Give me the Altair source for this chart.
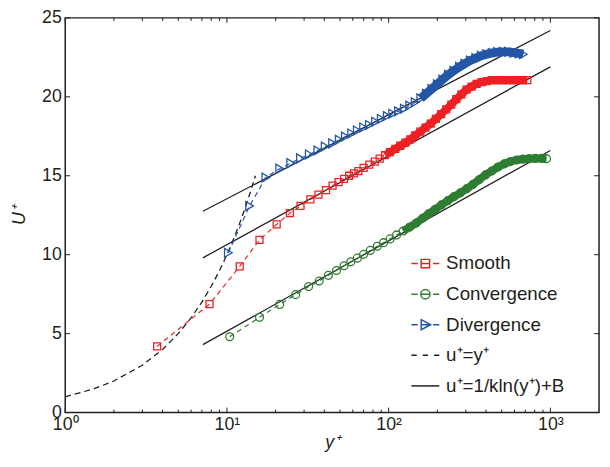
import altair as alt
import pandas as pd

FONT = "Liberation Sans"
INK = "#231f20"

# ---------------- data ----------------
smooth_yp = [3.7, 7.8, 12.0, 15.9, 20.3, 24.5, 28.5, 32.8, 36.8, 41.0, 45.0,
             49, 53, 57, 61, 65, 70, 76, 82, 88, 95, 102, 110, 118, 127, 136,
             146, 157, 169, 182, 196, 211, 227, 244, 262, 282, 303, 326, 350,
             376, 404, 434, 467, 502, 540, 580, 623, 670, 720]
smooth_u = [4.19, 6.87, 9.26, 10.94, 11.92, 12.64, 13.09, 13.5, 13.8, 14.09, 14.37,
            14.6, 14.8, 15.0, 15.15, 15.3, 15.5, 15.7, 15.9, 16.08, 16.3, 16.5, 16.7,
            16.9, 17.1, 17.3, 17.55, 17.8, 18.05, 18.3, 18.6, 18.9, 19.2, 19.5, 19.85,
            20.15, 20.45, 20.65, 20.82, 20.93, 21.0, 21.05, 21.05, 21.05, 21.05, 21.05,
            21.05, 21.05, 21.05]

conv_yp = [10.4, 15.9, 21.2, 26.6, 32.0, 37.2, 42.4, 47.6, 53.0, 58.3, 64, 70, 77,
           85, 93, 102, 112, 123, 135, 148, 162, 177, 194, 212, 232, 254, 278, 304,
           332, 363, 397, 434, 474, 518, 566, 619, 676, 739, 808, 883, 946]
conv_u = [4.8, 6.03, 6.85, 7.47, 7.98, 8.33, 8.69, 9.0, 9.3, 9.55, 9.78, 10.02,
          10.27, 10.53, 10.76, 11.0, 11.25, 11.5, 11.75, 12.0, 12.3, 12.6, 12.88,
          13.15, 13.42, 13.68, 13.92, 14.18, 14.45, 14.75, 15.05, 15.3, 15.55, 15.75,
          15.9, 16.0, 16.05, 16.08, 16.1, 16.1, 16.08]

div_yp = [10.2, 13.8, 17.4, 21.2, 24.8, 28.5, 32.3, 36.5, 40.5, 45, 49.5, 54, 59,
          64, 70, 76, 83, 90, 98, 106, 115, 125, 135, 146, 158, 171, 185, 200, 216,
          234, 253, 274, 296, 320, 346, 374, 404, 437, 472, 510, 551, 595, 640, 680]
div_u = [10.12, 13.09, 14.89, 15.45, 15.8, 16.1, 16.35, 16.6, 16.85, 17.05, 17.28,
         17.48, 17.68, 17.87, 18.06, 18.22, 18.42, 18.6, 18.78, 18.93, 19.08, 19.25,
         19.45, 19.65, 19.9, 20.2, 20.5, 20.8, 21.1, 21.4, 21.65, 21.9, 22.1, 22.3,
         22.45, 22.6, 22.7, 22.78, 22.83, 22.85, 22.85, 22.8, 22.75, 22.7]

# viscous sublayer u+ = y+
visc_yp = [1, 1.5, 2, 3, 4, 5, 6, 7, 8, 9, 10, 11, 12, 13, 14, 15]
visc_u = [1, 1.5, 2, 3, 4, 5, 6, 7, 8, 9, 10, 11, 12, 13, 14, 15]

# log-law lines (two end points each)
law_yp = [7.1, 1000]
law_div_u = [12.75, 24.2]
law_smooth_u = [9.8, 21.9]
law_conv_u = [4.3, 16.6]

x_major = [1, 10, 100, 1000]
x_minor = [2, 3, 4, 5, 6, 7, 8, 9, 20, 30, 40, 50, 60, 70, 80, 90,
           200, 300, 400, 500, 600, 700, 800, 900]
y_major = [0, 5, 10, 15, 20, 25]

series_names = ["Smooth", "Convergence", "Divergence", "u⁺=y⁺", "u⁺=1/kln(y⁺)+B"]
series_colors = ["#ed2024", "#2e7d32", "#2457a6", INK, INK]

# ---------------- tables ----------------
pts = pd.concat([
    pd.DataFrame({"series": "Smooth", "yp": smooth_yp, "U": smooth_u}),
    pd.DataFrame({"series": "Convergence", "yp": conv_yp, "U": conv_u}),
    pd.DataFrame({"series": "Divergence", "yp": div_yp, "U": div_u}),
], ignore_index=True)
visc = pd.DataFrame({"yp": visc_yp, "U": visc_u})
law = pd.concat([
    pd.DataFrame({"line": "div", "yp": law_yp, "U": law_div_u}),
    pd.DataFrame({"line": "smooth", "yp": law_yp, "U": law_smooth_u}),
    pd.DataFrame({"line": "conv", "yp": law_yp, "U": law_conv_u}),
], ignore_index=True)
xmaj = pd.DataFrame({"yp": x_major})
xmin = pd.DataFrame({"yp": x_minor})
ymaj = pd.DataFrame({"U": y_major})

W, H = 541, 400

xscale = alt.Scale(type="log", domain=[1, 2000], nice=False)
yscale = alt.Scale(domain=[0, 25], nice=False)
xaxis = alt.Axis(
    values=x_major, ticks=False, domain=False, grid=False,
    labelExpr="datum.value == 1 ? '10⁰' : datum.value == 10 ? '10¹' : datum.value == 100 ? '10²' : '10³'",
    labelFont=FONT, labelFontSize=18, labelColor=INK, labelPadding=3,
    labelFlush=False, labelOverlap=False,
    title="y⁺", titleFont=FONT, titleFontSize=18, titleFontStyle="italic",
    titleFontWeight="normal", titleColor=INK, titlePadding=0,
)
yaxis = alt.Axis(
    values=y_major, ticks=False, domain=False, grid=False,
    labelFont=FONT, labelFontSize=18, labelColor=INK, labelPadding=4,
    labelFlush=False, labelOverlap=False,
    title="U⁺", titleFont=FONT, titleFontSize=18, titleFontStyle="italic",
    titleFontWeight="normal", titleColor=INK, titlePadding=13,
)
X = alt.X("yp:Q", scale=xscale, axis=xaxis)
Y = alt.Y("U:Q", scale=yscale, axis=yaxis)

layers = []

# log-law reference lines
layers.append(
    alt.Chart(law).mark_line(color=INK, strokeWidth=1.3)
    .encode(x=X, y=Y, detail="line:N")
)
# viscous sublayer line
layers.append(
    alt.Chart(visc).mark_line(color=INK, strokeWidth=1.3, strokeDash=[6, 4])
    .encode(x=X, y=Y)
)

marker = {
    "Smooth": dict(shape="square", size=50, band=8, dense_from=95),
    "Convergence": dict(shape="circle", size=64, band=8, dense_from=120),
    "Divergence": dict(shape="triangle-right", size=80, band=9, dense_from=150),
}
for name, col in zip(series_names[:3], series_colors[:3]):
    m = marker[name]
    base = alt.Chart(pts).transform_filter(alt.datum.series == name)
    layers.append(
        base.mark_line(color=col, strokeWidth=1.2, strokeDash=[5, 4]).encode(x=X, y=Y)
    )
    layers.append(
        base.transform_filter(alt.datum.yp >= m["dense_from"])
        .mark_line(color=col, strokeWidth=m["band"], strokeCap="butt", strokeJoin="round")
        .encode(x=X, y=Y)
    )
    layers.append(
        base.mark_point(shape=m["shape"], size=m["size"], filled=False, opacity=1,
                        color=col, strokeWidth=1.3)
        .encode(x=X, y=Y)
    )

# inward ticks on all four sides
tick = dict(color=INK, strokeWidth=1)
layers += [
    alt.Chart(xmaj).mark_rule(**tick).encode(x=X, y=alt.value(H), y2=alt.value(H - 5)),
    alt.Chart(xmaj).mark_rule(**tick).encode(x=X, y=alt.value(0), y2=alt.value(5)),
    alt.Chart(xmin).mark_rule(**tick).encode(x=X, y=alt.value(H), y2=alt.value(H - 3)),
    alt.Chart(xmin).mark_rule(**tick).encode(x=X, y=alt.value(0), y2=alt.value(3)),
    alt.Chart(ymaj).mark_rule(**tick).encode(y=Y, x=alt.value(0), x2=alt.value(5)),
    alt.Chart(ymaj).mark_rule(**tick).encode(y=Y, x=alt.value(W), x2=alt.value(W - 5)),
]

# legend (symbols are dashed line + marker paths)
legend_paths = [
    "M-1,0H-0.55M0.55,0H1M-0.3,-0.3H0.3V0.3H-0.3ZM-0.3,0H0.3",
    "M-1,0H-0.55M0.55,0H1M-0.33,0A0.33,0.33,0,1,0,0.33,0A0.33,0.33,0,1,0,-0.33,0ZM-0.33,0H0.33",
    "M-1,0H-0.55M0.55,0H1M-0.3,-0.36L0.38,0L-0.3,0.36ZM-0.3,0H0.38",
    "M-1,0H-0.62M-0.19,0H0.19M0.62,0H1",
    "M-1,0H1",
]
leg = dict(title=None, orient="none", legendX=350, legendY=234, symbolSize=800,
           symbolStrokeWidth=1.5, labelFont=FONT, labelFontSize=19, labelColor=INK,
           labelOffset=6, rowPadding=6, padding=0, labelLimit=400)
legend_layer = (
    alt.Chart(pd.DataFrame({"series": series_names}))
    .transform_filter("datum.series == 'none'")
    .mark_point(filled=False, opacity=1)
    .encode(
        color=alt.Color("series:N", scale=alt.Scale(domain=series_names, range=series_colors),
                        legend=alt.Legend(**leg)),
        shape=alt.Shape("series:N", scale=alt.Scale(domain=series_names, range=legend_paths),
                        legend=alt.Legend(**leg)),
    )
)
layers.append(legend_layer)

chart = (
    alt.layer(*layers)
    .properties(
        width=W, height=H,
        autosize=alt.AutoSizeParams(type="none"),
        padding={"left": 58, "top": 7, "right": 3, "bottom": 40},
        background="white",
    )
    .configure_view(stroke=INK, strokeWidth=1.5)
)

chart.save("out.html", embed_options={"renderer": "svg", "actions": False})
